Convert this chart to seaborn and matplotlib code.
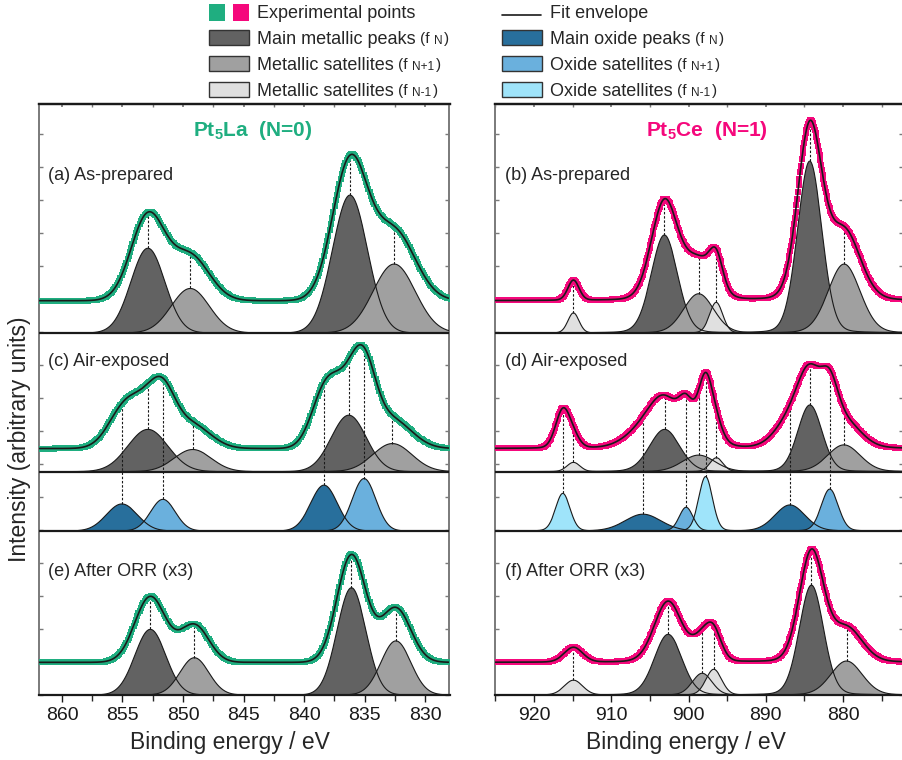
import numpy as np
import pandas as pd
import matplotlib
matplotlib.use("Agg")
import matplotlib.pyplot as plt
import seaborn as sns
from matplotlib.patches import Rectangle
from matplotlib.lines import Line2D

sns.set_theme(style="ticks")
plt.rcParams["font.family"] = ["Liberation Sans", "DejaVu Sans"]
plt.rcParams["mathtext.fontset"] = "custom"
plt.rcParams["mathtext.rm"] = "Liberation Sans"
plt.rcParams["mathtext.bf"] = "Liberation Sans:bold"

# ---------------- colours ----------------
GREEN = "#1fae80"
PINK = "#f5087c"
KIND_COLOR = {
    "main": "#626262",
    "sat_up": "#a0a0a0",
    "sat_dn": "#e0e0e0",
    "ox_main": "#286f9c",
    "ox_sat_up": "#6ab0dd",
    "ox_sat_dn": "#9fe4fa",
}
KIND_ORDER = ["main", "sat_up", "sat_dn", "ox_main", "ox_sat_up", "ox_sat_dn"]

# ---------------- Pt5La (left column) ----------------
# (a) as-prepared
a_pos = [852.9, 849.4, 836.2, 832.55]
a_amp = [2.57, 1.35, 4.18, 2.09]
a_fwhm = [3.3, 3.7, 3.4, 4.1]
a_kind = ["main", "sat_up", "main", "sat_up"]
# (c) air-exposed, metallic part
c_pos = [852.9, 849.2, 836.3, 832.7]
c_amp = [1.28, 0.67, 1.71, 0.85]
c_fwhm = [3.9, 3.6, 3.4, 3.8]
c_kind = ["main", "sat_up", "main", "sat_up"]
# (c) air-exposed, oxide part
c_ox_pos = [855.05, 851.66, 838.35, 835.04]
c_ox_amp = [0.82, 0.96, 1.39, 1.59]
c_ox_fwhm = [3.0, 2.4, 2.6, 2.3]
c_ox_kind = ["ox_main", "ox_sat_up", "ox_main", "ox_sat_up"]
# (e) after ORR
e_pos = [852.7, 849.06, 836.08, 832.41]
e_amp = [1.99, 1.13, 3.25, 1.64]
e_fwhm = [3.0, 2.8, 2.8, 2.9]
e_kind = ["main", "sat_up", "main", "sat_up"]

# ---------------- Pt5Ce (right column) ----------------
# (b) as-prepared
b_pos = [914.9, 903.13, 898.7, 896.43, 884.32, 879.87]
b_amp = [0.61, 2.97, 1.19, 0.93, 5.21, 2.09]
b_fwhm = [1.7, 4.0, 4.6, 2.0, 3.7, 4.9]
b_kind = ["sat_dn", "main", "sat_up", "sat_dn", "main", "sat_up"]
# (d) air-exposed, metallic part
d_pos = [914.9, 903.1, 898.7, 896.4, 884.3, 879.9]
d_amp = [0.28, 1.28, 0.50, 0.42, 2.02, 0.81]
d_fwhm = [2.0, 4.6, 5.0, 2.0, 3.7, 5.0]
d_kind = ["sat_dn", "main", "sat_up", "sat_dn", "main", "sat_up"]
# (d) air-exposed, oxide part
d_ox_pos = [916.28, 905.9, 900.32, 897.8, 886.88, 881.73]
d_ox_amp = [1.14, 0.51, 0.72, 1.65, 0.79, 1.27]
d_ox_fwhm = [2.2, 5.5, 2.1, 2.1, 4.6, 2.6]
d_ox_kind = ["ox_sat_dn", "ox_main", "ox_sat_up", "ox_sat_dn", "ox_main", "ox_sat_up"]
# (f) after ORR
f_pos = [914.9, 902.65, 898.24, 896.74, 884.1, 879.56]
f_amp = [0.45, 1.84, 0.66, 0.78, 3.33, 1.03]
f_fwhm = [2.8, 4.2, 3.0, 2.4, 3.7, 4.8]
f_kind = ["sat_dn", "main", "sat_up", "sat_dn", "main", "sat_up"]

# vertical stacking levels (intensity offsets)
Y_TOP = 17.91
LVL_TOP, ENV_TOP = 10.97, 11.95
LVL_MID, ENV_MID = 6.77, 7.47
LVL_OX = 4.97
LVL_BOT, ENV_BOT = 0.0, 0.99

LA_LIM = (861.94, 827.98)
CE_LIM = (925.12, 872.25)
LA_TICKS = [860, 855, 850, 845, 840, 835, 830]
CE_TICKS = [920, 910, 900, 890, 880]

# ---------------- figure ----------------
W, H = 902, 760
fig = plt.figure(figsize=(W / 100, H / 100), dpi=100)


def fx(x):
    return x / W


def fy(y):
    return 1 - y / H


ax_l = fig.add_axes([fx(38.5), fy(695), (449.5 - 38.5) / W, (695 - 104) / H])
ax_r = fig.add_axes([fx(494.5), fy(695), (903 - 494.5) / W, (695 - 104) / H])


def profile(E, c, h, w, eta):
    d2 = 4 * (E - c) ** 2 / w ** 2
    return h * ((1 - eta) * np.exp(-np.log(2) * d2) + eta / (1 + d2))


def comps(pos, amp, fwhm, kind):
    return list(zip(pos, amp, fwhm, kind))


def draw_block(ax, E, parts, base, eta):
    total = np.zeros_like(E)
    for c, h, w, k in sorted(parts, key=lambda p: KIND_ORDER.index(p[3])):
        y = profile(E, c, h, w, eta)
        total += y
        ax.fill_between(E, base, base + y, facecolor=KIND_COLOR[k],
                        edgecolor="none", zorder=2)
        ax.plot(E, base + y, color="k", lw=0.8, zorder=3)
    return total


def draw_stack(ax, lim, color, eta, metal, metal_base, env_base,
               oxide=None, ox_base=None):
    E = np.linspace(min(lim) - 1, max(lim) + 1, 2500)
    tot = draw_block(ax, E, metal, metal_base, eta)
    if oxide is not None:
        tot = tot + draw_block(ax, E, oxide, ox_base, eta)
    env = env_base + tot

    def env_at(x):
        val = env_base
        for c, h, w, k in metal + (oxide or []):
            val += profile(np.array(x), c, h, w, eta)
        return val

    # drop lines from each fitted component to the envelope
    for c, h, w, k in metal:
        ax.plot([c, c], [metal_base + profile(np.array(c), c, h, w, eta), env_at(c)],
                color="k", lw=0.8, ls=(0, (2.2, 1.6)), zorder=4)
    for c, h, w, k in (oxide or []):
        ax.plot([c, c], [ox_base + profile(np.array(c), c, h, w, eta), env_at(c)],
                color="k", lw=0.8, ls=(0, (2.2, 1.6)), zorder=4)

    # measured points and fitted envelope
    Ep = np.arange(min(lim) - 0.5, max(lim) + 0.5, 0.1)
    pts = pd.DataFrame({"E": Ep, "I": env_at(Ep)})
    sns.scatterplot(data=pts, x="E", y="I", ax=ax, marker="s", s=22,
                    color=color, linewidth=0, zorder=5)
    df = pd.DataFrame({"E": E, "I": env})
    sns.lineplot(data=df, x="E", y="I", ax=ax, color="k", lw=1.2,
                 estimator=None, sort=False, zorder=6)


draw_stack(ax_l, LA_LIM, GREEN, 0.0, comps(a_pos, a_amp, a_fwhm, a_kind), LVL_TOP, ENV_TOP)
draw_stack(ax_l, LA_LIM, GREEN, 0.0, comps(c_pos, c_amp, c_fwhm, c_kind), LVL_MID, ENV_MID,
           comps(c_ox_pos, c_ox_amp, c_ox_fwhm, c_ox_kind), LVL_OX)
draw_stack(ax_l, LA_LIM, GREEN, 0.0, comps(e_pos, e_amp, e_fwhm, e_kind), LVL_BOT, ENV_BOT)

draw_stack(ax_r, CE_LIM, PINK, 0.1, comps(b_pos, b_amp, b_fwhm, b_kind), LVL_TOP, ENV_TOP)
draw_stack(ax_r, CE_LIM, PINK, 0.1, comps(d_pos, d_amp, d_fwhm, d_kind), LVL_MID, ENV_MID,
           comps(d_ox_pos, d_ox_amp, d_ox_fwhm, d_ox_kind), LVL_OX)
draw_stack(ax_r, CE_LIM, PINK, 0.1, comps(f_pos, f_amp, f_fwhm, f_kind), LVL_BOT, ENV_BOT)

for ax, lim, ticks, minor in [(ax_l, LA_LIM, LA_TICKS, 2.5), (ax_r, CE_LIM, CE_TICKS, 5)]:
    ax.set_xlim(*lim)
    ax.set_ylim(0, Y_TOP)
    ax.set_xlabel("")
    ax.set_ylabel("")
    for lvl in (LVL_TOP, LVL_MID, LVL_OX):
        ax.axhline(lvl, color="k", lw=1.6, zorder=7)
    ax.set_xticks(ticks)
    ax.set_xticklabels([str(t) for t in ticks])
    mticks = np.arange(min(ticks) - 10, max(ticks) + 10, minor)
    ax.set_xticks([m for m in mticks if min(lim) <= m <= max(lim)], minor=True)
    ax.tick_params(axis="x", which="major", direction="out", length=5, width=1,
                   labelsize=14, pad=4, colors="k")
    ax.tick_params(axis="x", which="minor", direction="out", length=4, width=1)
    ax.set_yticks(np.arange(0, 18, 1))
    ax.tick_params(axis="y", which="major", direction="in", left=True, right=True,
                   labelleft=False, length=3, width=1, color="#7a7a7a")
    for side in ("left", "right"):
        ax.spines[side].set_color("#7a7a7a")
        ax.spines[side].set_linewidth(1.4)
    for side in ("top", "bottom"):
        ax.spines[side].set_color("k")
        ax.spines[side].set_linewidth(1.6)
    sec = ax.secondary_xaxis("top")
    sec.set_xticks(ticks)
    sec.set_xticks([m for m in mticks if min(lim) <= m <= max(lim)], minor=True)
    sec.tick_params(axis="x", which="both", direction="in", length=2.5,
                    labeltop=False, color="#7a7a7a")
    sec.spines["top"].set_color("k")
    sec.spines["top"].set_linewidth(1.6)

# ---------------- text ----------------
fig.text(fx(20), fy(439), "Intensity (arbitrary units)", rotation=90,
         ha="center", va="center", fontsize=16.5)
fig.text(fx(230), fy(742), "Binding energy / eV", ha="center", va="center", fontsize=16.5)
fig.text(fx(686), fy(742), "Binding energy / eV", ha="center", va="center", fontsize=16.5)

fig.text(fx(253), fy(131), r"Pt$_\mathbf{5}$La  (N=0)", ha="center", va="center",
         fontsize=15, fontweight="bold", color=GREEN)
fig.text(fx(707), fy(131), r"Pt$_\mathbf{5}$Ce  (N=1)", ha="center", va="center",
         fontsize=15, fontweight="bold", color=PINK)

panel_labels = [
    (48, 175, "(a) As-prepared"), (48, 362, "(c) Air-exposed"), (48, 572, "(e) After ORR (x3)"),
    (505, 175, "(b) As-prepared"), (505, 362, "(d) Air-exposed"), (505, 572, "(f) After ORR (x3)"),
]
for x, y, s in panel_labels:
    fig.text(fx(x), fy(y), s, ha="left", va="center", fontsize=13)

# ---------------- legend ----------------
renderer = fig.canvas.get_renderer()


def text_run(x_px, base_px, pieces):
    x = x_px
    for s, size, gap in pieces:
        t = fig.text(fx(x), fy(base_px), s, fontsize=size, va="baseline", ha="left")
        x += t.get_window_extent(renderer).width + gap


def legend_box(x0, yc, color, w=40, h=15):
    fig.add_artist(Rectangle((fx(x0), fy(yc + h / 2)), w / W, h / H,
                             transform=fig.transFigure, facecolor=color,
                             edgecolor="#333333", lw=1.0))


rows = [12.5, 37.5, 63.5, 89.5]
# experimental points
fig.add_artist(Rectangle((fx(209), fy(rows[0] + 8.5)), 16 / W, 17 / H,
                         transform=fig.transFigure, facecolor=GREEN, edgecolor="none"))
fig.add_artist(Rectangle((fx(233), fy(rows[0] + 8.5)), 16 / W, 17 / H,
                         transform=fig.transFigure, facecolor=PINK, edgecolor="none"))
text_run(257, rows[0] + 6, [("Experimental points", 13, 0)])
# fit envelope
fig.add_artist(Line2D([fx(502), fx(541)], [fy(rows[0] + 2), fy(rows[0] + 2)],
                      transform=fig.transFigure, color="k", lw=1.2))
text_run(550, rows[0] + 6, [("Fit envelope", 13, 0)])

left_entries = [
    ("main", "Main metallic peaks", "N"),
    ("sat_up", "Metallic satellites", "N+1"),
    ("sat_dn", "Metallic satellites", "N-1"),
]
right_entries = [
    ("ox_main", "Main oxide peaks", "N"),
    ("ox_sat_up", "Oxide satellites", "N+1"),
    ("ox_sat_dn", "Oxide satellites", "N-1"),
]
for i, (k, label, sub) in enumerate(left_entries):
    yc = rows[i + 1]
    legend_box(209, yc, KIND_COLOR[k])
    text_run(257, yc + 6, [(label, 13, 4), ("(f", 11, 5), (sub, 8.5, 1.5), (")", 11, 0)])
for i, (k, label, sub) in enumerate(right_entries):
    yc = rows[i + 1]
    legend_box(502, yc, KIND_COLOR[k])
    text_run(550, yc + 6, [(label, 13, 4), ("(f", 11, 5), (sub, 8.5, 1.5), (")", 11, 0)])

fig.savefig("out.png", dpi=100)
